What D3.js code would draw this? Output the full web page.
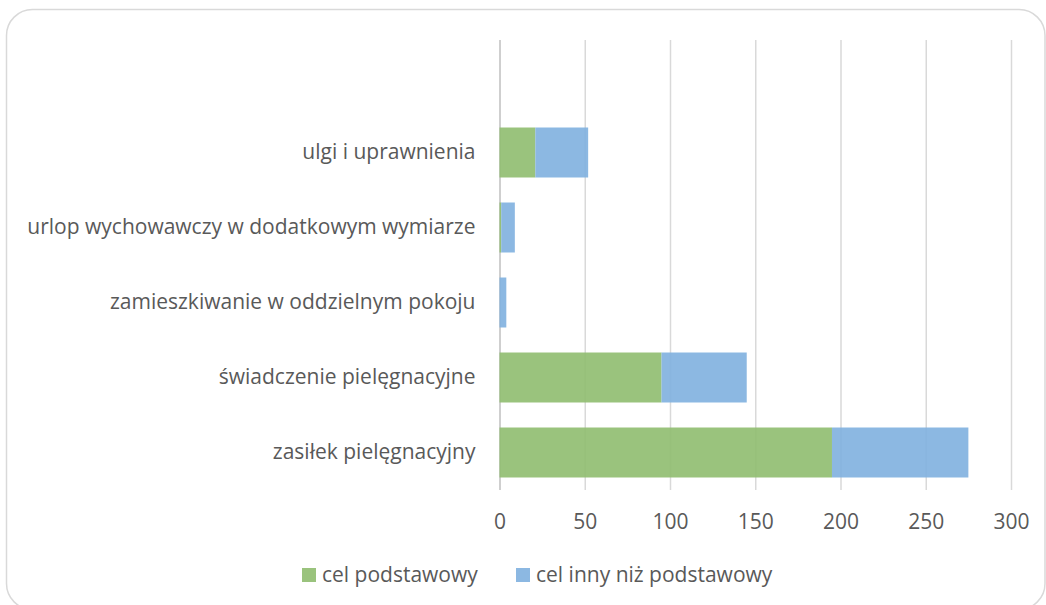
<!DOCTYPE html>
<html>
<head>
<meta charset="utf-8">
<script src="https://cdn.jsdelivr.net/npm/d3@7"></script>
<style>
    body { margin: 0; background: #fff; }
    text { font-family: "Open Sans", sans-serif; fill: #595959; }
</style>
</head>
<body>
<svg id="chart" width="1046" height="605"></svg>
<script>
// categories top to bottom, as in the picture
let categories = [
    "ulgi i uprawnienia",
    "urlop wychowawczy w dodatkowym wymiarze",
    "zamieszkiwanie w oddzielnym pokoju",
    "świadczenie pielęgnacyjne",
    "zasiłek pielęgnacyjny"
];
let seriesNames = ["cel podstawowy", "cel inny niż podstawowy"];
let basicValues = [21, 1, 0, 95, 195];
let otherValues = [31, 8, 4, 50, 80];
let xTicks = [0, 50, 100, 150, 200, 250, 300];
let seriesColors = ["#8fbd6f", "#80b0df"];

let svg = d3.select("#chart");
let plotTop = 40, plotBottom = 490;
let fontSize = "21px";

// outer rounded frame
svg.append("rect")
    .attr("x", 6.5).attr("y", 9.5)
    .attr("width", 1038.5).attr("height", 600)
    .attr("rx", 26)
    .attr("fill", "#fff")
    .attr("stroke", "#d9d9d9")
    .attr("stroke-width", 1.5);

let x = d3.scaleLinear().domain([0, 300]).range([499.5, 1011]);
// one empty slot on top, like the source chart
let y = d3.scaleBand()
    .domain([""].concat(categories))
    .range([plotTop, plotBottom])
    .paddingInner(1 / 3)
    .paddingOuter(1 / 6);

let rows = categories.map((c, i) => ({cat: c, v0: basicValues[i], v1: otherValues[i]}));
let stack = d3.stack().keys(["v0", "v1"])(rows);

// gridlines + tick labels
let xAxis = d3.axisBottom(x).tickValues(xTicks).tickSize(-(plotBottom - plotTop)).tickPadding(24);
let axisG = svg.append("g")
    .attr("class", "x-axis")
    .attr("transform", "translate(0," + plotBottom + ")")
    .call(xAxis);
axisG.select(".domain").remove();
axisG.selectAll(".tick line").attr("stroke", "#d9d9d9").attr("stroke-width", 1.5);
axisG.selectAll(".tick line").filter(d => d === 0).attr("stroke", "#bfbfbf");
axisG.selectAll(".tick text")
    .style("font-size", fontSize)
    .attr("fill", "#595959");

// bars
svg.append("g").selectAll("g")
    .data(stack)
    .enter().append("g")
    .attr("fill", (d, i) => seriesColors[i])
    .attr("fill-opacity", 0.9)
    .selectAll("rect")
    .data(d => d)
    .enter().append("rect")
    .attr("x", d => x(d[0]))
    .attr("width", d => x(d[1]) - x(d[0]))
    .attr("y", d => y(d.data.cat))
    .attr("height", y.bandwidth());

// category labels
let yAxis = d3.axisLeft(y).tickValues(categories).tickSize(0).tickPadding(24);
let yG = svg.append("g")
    .attr("transform", "translate(" + x(0) + ",0)")
    .call(yAxis);
yG.select(".domain").remove();
yG.selectAll(".tick text")
    .style("font-size", fontSize)
    .attr("fill", "#595959");

// legend
let legendX = [302, 516];
let legend = svg.append("g").selectAll("g")
    .data(seriesNames)
    .enter().append("g")
    .attr("transform", (d, i) => "translate(" + legendX[i] + ",568)");
legend.append("rect")
    .attr("width", 14).attr("height", 14)
    .attr("fill", (d, i) => seriesColors[i])
    .attr("fill-opacity", 0.9);
legend.append("text")
    .attr("x", 20).attr("y", 14)
    .style("font-size", fontSize)
    .text(d => d);
</script>
</body>
</html>
